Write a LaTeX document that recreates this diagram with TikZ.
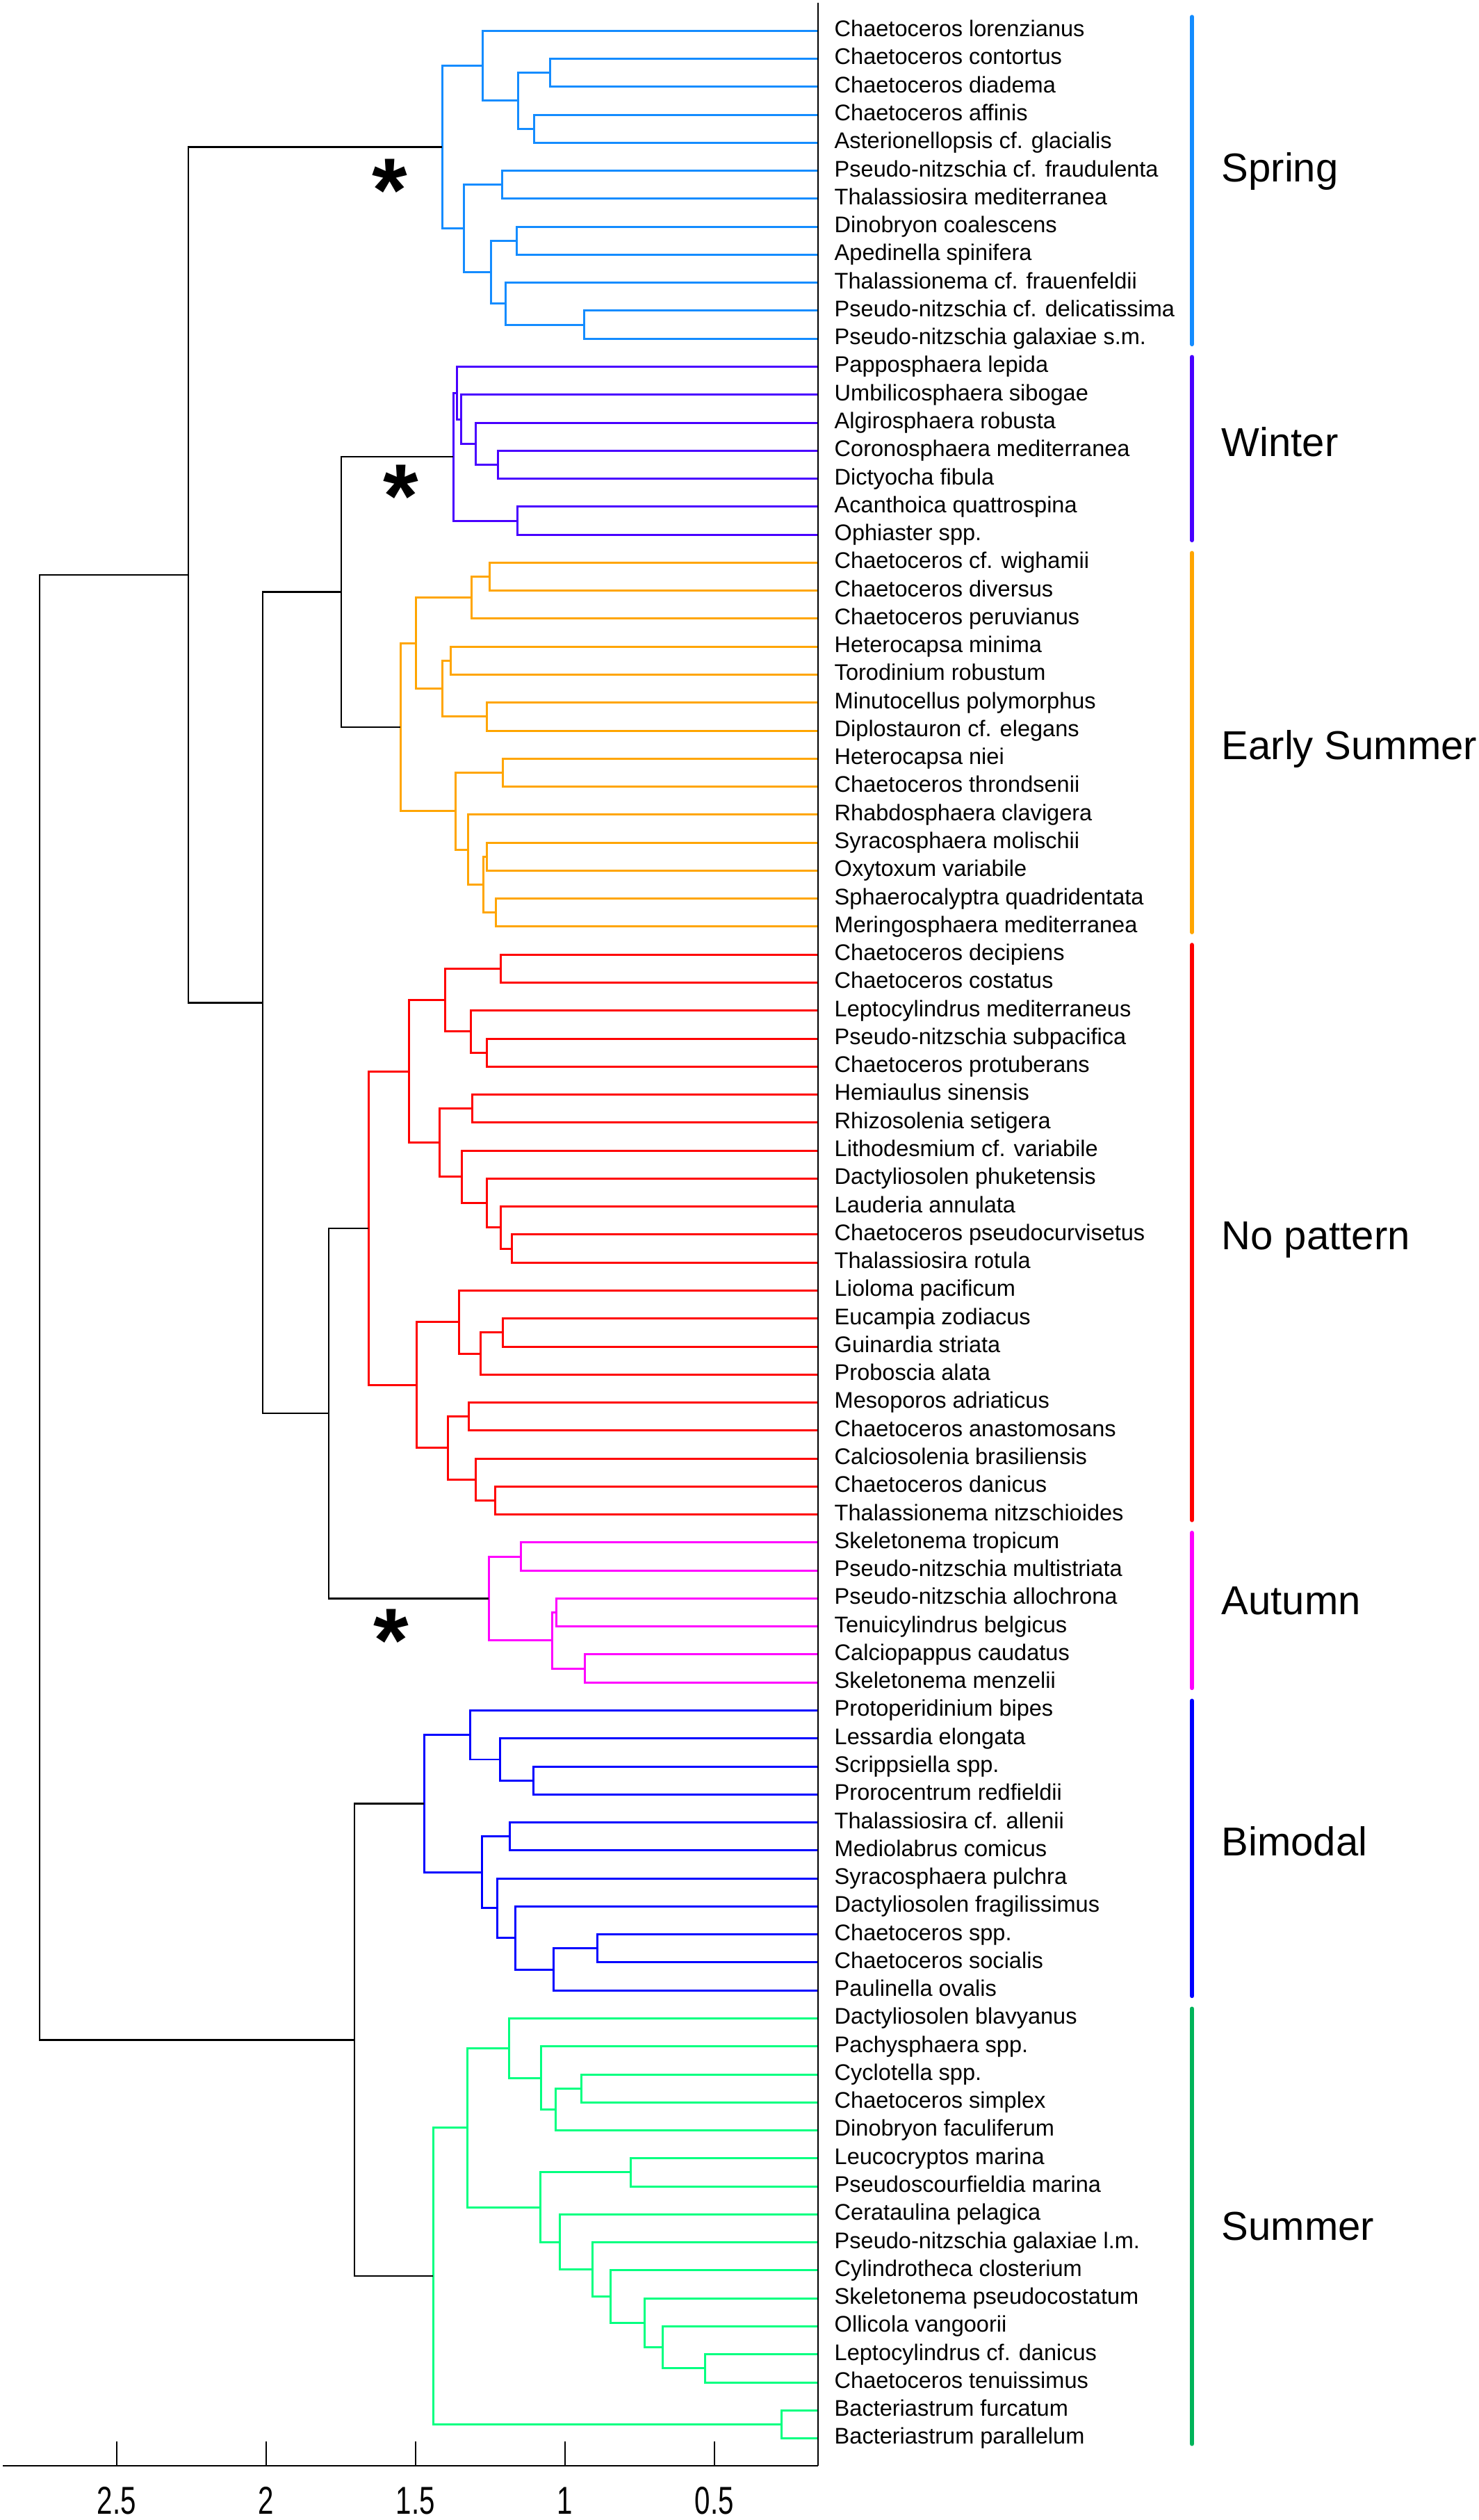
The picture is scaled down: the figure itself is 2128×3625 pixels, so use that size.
\documentclass[tikz,border=0pt]{standalone}
\usepackage{fontspec}
\setmainfont{Liberation Sans}
\newfontfamily\axisfont[FakeStretch=0.72]{Liberation Sans}
\usepackage{tikz}
\usetikzlibrary{calc}

\definecolor{springc}{RGB}{20,140,255}
\definecolor{winterc}{RGB}{72,0,255}
\definecolor{earlyc}{RGB}{255,165,0}
\definecolor{nopatc}{RGB}{255,0,0}
\definecolor{autumnc}{RGB}{255,0,255}
\definecolor{bimodc}{RGB}{0,0,255}
\definecolor{summerc}{RGB}{0,255,128}
\definecolor{summerbar}{RGB}{0,180,90}

\newcommand{\clade}[4]{%
  \coordinate (#1x) at (#4,0);
  \draw[branch] (#2) -- (#2 -| #1x) -- (#3 -| #1x) -- (#3);
  \coordinate (#1) at ($(#2 -| #1x)!0.5!(#3 -| #1x)$);
}

\begin{document}
\begin{tikzpicture}[
    x=0.01cm, y=-0.01cm,
    branch/.style={line width=0.85pt},
    trunk/.style={black, branch/.style={line width=0.7pt}},
    leaf/.style={anchor=base west, inner sep=0pt, font=\fontsize{9.25}{11}\selectfont},
    season/.style={anchor=base west, inner sep=0pt, font=\fontsize{16.5}{20}\selectfont},
    ticklab/.style={inner sep=0pt, font=\axisfont\fontsize{15.9}{19}\selectfont},
    sigmark/.style={anchor=base, inner sep=0pt, font=\fontsize{37}{40}\selectfont\bfseries},
    bar/.style={line width=1.7pt, line cap=round},
    axisline/.style={line width=0.75pt}
]
    \useasboundingbox (0,0) rectangle (2128,3625);

    \foreach \sp [count=\i] in {Chaetoceros lorenzianus, Chaetoceros contortus,
        Chaetoceros diadema, Chaetoceros affinis, Asterionellopsis cf. glacialis,
        Pseudo-nitzschia cf. fraudulenta, Thalassiosira mediterranea,
        Dinobryon coalescens, Apedinella spinifera, Thalassionema cf. frauenfeldii,
        Pseudo-nitzschia cf. delicatissima, Pseudo-nitzschia galaxiae s.m.,
        Papposphaera lepida, Umbilicosphaera sibogae, Algirosphaera robusta,
        Coronosphaera mediterranea, Dictyocha fibula, Acanthoica quattrospina,
        Ophiaster spp., Chaetoceros cf. wighamii, Chaetoceros diversus,
        Chaetoceros peruvianus, Heterocapsa minima, Torodinium robustum,
        Minutocellus polymorphus, Diplostauron cf. elegans, Heterocapsa niei,
        Chaetoceros throndsenii, Rhabdosphaera clavigera, Syracosphaera molischii,
        Oxytoxum variabile, Sphaerocalyptra quadridentata, Meringosphaera mediterranea,
        Chaetoceros decipiens, Chaetoceros costatus, Leptocylindrus mediterraneus,
        Pseudo-nitzschia subpacifica, Chaetoceros protuberans, Hemiaulus sinensis,
        Rhizosolenia setigera, Lithodesmium cf. variabile, Dactyliosolen phuketensis,
        Lauderia annulata, Chaetoceros pseudocurvisetus, Thalassiosira rotula,
        Lioloma pacificum, Eucampia zodiacus, Guinardia striata, Proboscia alata,
        Mesoporos adriaticus, Chaetoceros anastomosans, Calciosolenia brasiliensis,
        Chaetoceros danicus, Thalassionema nitzschioides, Skeletonema tropicum,
        Pseudo-nitzschia multistriata, Pseudo-nitzschia allochrona,
        Tenuicylindrus belgicus, Calciopappus caudatus, Skeletonema menzelii,
        Protoperidinium bipes, Lessardia elongata, Scrippsiella spp.,
        Prorocentrum redfieldii, Thalassiosira cf. allenii, Mediolabrus comicus,
        Syracosphaera pulchra, Dactyliosolen fragilissimus, Chaetoceros spp.,
        Chaetoceros socialis, Paulinella ovalis, Dactyliosolen blavyanus,
        Pachysphaera spp., Cyclotella spp., Chaetoceros simplex, Dinobryon faculiferum,
        Leucocryptos marina, Pseudoscourfieldia marina, Cerataulina pelagica,
        Pseudo-nitzschia galaxiae l.m., Cylindrotheca closterium,
        Skeletonema pseudocostatum, Ollicola vangoorii, Leptocylindrus cf. danicus,
        Chaetoceros tenuissimus, Bacteriastrum furcatum, Bacteriastrum parallelum}
    {
        \coordinate (L\i) at (1177,{4.03+40.27*\i});
        \node[leaf] (T\i) at (1200,{12.43+40.27*\i}) {\sp};
    }

    % spring
    \begin{scope}[springc]
        \clade{s1}{L2}{L3}{791}
        \clade{s2}{L4}{L5}{768}
        \clade{s3}{s1}{s2}{745}
        \clade{s4}{L1}{s3}{694}
        \clade{s5}{L6}{L7}{722}
        \clade{s6}{L8}{L9}{743}
        \clade{s7}{L11}{L12}{840}
        \clade{s8}{L10}{s7}{727}
        \clade{s9}{s6}{s8}{706}
        \clade{s10}{s5}{s9}{667}
        \clade{spr}{s4}{s10}{636}
    \end{scope}

    % winter
    \begin{scope}[winterc]
        \clade{w1}{L16}{L17}{716}
        \clade{w2}{L15}{w1}{684}
        \clade{w3}{L14}{w2}{663}
        \clade{w4}{L13}{w3}{657}
        \clade{w5}{L18}{L19}{744}
        \clade{win}{w4}{w5}{652}
    \end{scope}

    % early summer
    \begin{scope}[earlyc]
        \clade{e1}{L20}{L21}{704}
        \clade{e2}{e1}{L22}{678}
        \clade{e3}{L23}{L24}{648}
        \clade{e4}{L25}{L26}{700}
        \clade{e5}{e3}{e4}{636}
        \clade{e6}{e2}{e5}{598}
        \clade{e7}{L27}{L28}{723}
        \clade{e8}{L30}{L31}{700}
        \clade{e9}{L32}{L33}{713}
        \clade{e10}{e8}{e9}{695}
        \clade{e11}{L29}{e10}{673}
        \clade{e12}{e7}{e11}{655}
        \clade{ear}{e6}{e12}{576}
    \end{scope}

    % no pattern
    \begin{scope}[nopatc]
        \clade{n1}{L34}{L35}{720}
        \clade{n2}{L37}{L38}{700}
        \clade{n3}{L36}{n2}{677}
        \clade{n4}{n1}{n3}{640}
        \clade{n5}{L39}{L40}{679}
        \clade{n6}{L44}{L45}{736}
        \clade{n7}{L43}{n6}{720}
        \clade{n8}{L42}{n7}{700}
        \clade{n9}{L41}{n8}{664}
        \clade{n10}{n5}{n9}{632}
        \clade{n11}{n4}{n10}{588}
        \clade{n12}{L47}{L48}{723}
        \clade{n13}{n12}{L49}{691}
        \clade{n14}{L46}{n13}{660}
        \clade{n15}{L50}{L51}{674}
        \clade{n16}{L53}{L54}{712}
        \clade{n17}{L52}{n16}{684}
        \clade{n18}{n15}{n17}{644}
        \clade{n19}{n14}{n18}{599}
        \clade{nop}{n11}{n19}{530}
    \end{scope}

    % autumn
    \begin{scope}[autumnc]
        \clade{a1}{L55}{L56}{749}
        \clade{a2}{L57}{L58}{800}
        \clade{a3}{L59}{L60}{841}
        \clade{a4}{a2}{a3}{794}
        \clade{aut}{a1}{a4}{703}
    \end{scope}

    % bimodal
    \begin{scope}[bimodc]
        \clade{b1}{L63}{L64}{767}
        \clade{b2}{L62}{b1}{719}
        \clade{b3}{L61}{b2}{676}
        \clade{b4}{L65}{L66}{733}
        \clade{b5}{L69}{L70}{859}
        \clade{b6}{b5}{L71}{796}
        \clade{b7}{L68}{b6}{741}
        \clade{b8}{L67}{b7}{715}
        \clade{b9}{b4}{b8}{693}
        \clade{bim}{b3}{b9}{610}
    \end{scope}

    % summer
    \begin{scope}[summerc]
        \clade{u1}{L74}{L75}{836}
        \clade{u2}{u1}{L76}{799}
        \clade{u3}{L73}{u2}{778}
        \clade{u4}{L72}{u3}{732}
        \clade{u5}{L77}{L78}{907}
        \clade{u6}{L84}{L85}{1014}
        \clade{u7}{L83}{u6}{953}
        \clade{u8}{L82}{u7}{927}
        \clade{u9}{L81}{u8}{878}
        \clade{u10}{L80}{u9}{852}
        \clade{u11}{L79}{u10}{805}
        \clade{u12}{u5}{u11}{777}
        \clade{u13}{u4}{u12}{672}
        \clade{u14}{L86}{L87}{1124}
        \clade{sum}{u13}{u14}{623}
    \end{scope}

    \begin{scope}[trunk]
        \clade{k1}{win}{ear}{491}
        \clade{k2}{nop}{aut}{473}
        \clade{k3}{k1}{k2}{378}
        \clade{k4}{spr}{k3}{271}
        \clade{k5}{bim}{sum}{510}
        \clade{root}{k4}{k5}{57}
    \end{scope}

    \node[sigmark] (star1) at (561,319) {*};
    \node[sigmark] (star2) at (577,759) {*};
    \node[sigmark] (star3) at (563,2404) {*};

    % axis
    \coordinate (top) at (1177,4);
    \coordinate (corner) at (1177,3547);
    \coordinate (origin) at (4,3547);
    \draw[line width=0.6pt] (top) -- (corner);
    \draw[axisline] (origin) -- (corner);
    \foreach \v/\px [count=\k] in {2.5/167.6, 2/382.6, 1.5/597.7, 1/812.7, 0.5/1027.8}
    {
        \draw[line width=0.6pt] (\px,3512) -- (\px,3547);
        \node[ticklab] (tick\k) at (\px,3597) {\v};
    }

    % season bars
    \coordinate (barx) at (1715,0);
    \draw[bar, springc]   ($(L1 -| barx)+(0,-20)$)  -- ($(L12 -| barx)+(0,8)$);
    \draw[bar, winterc]   ($(L13 -| barx)+(0,-14)$) -- ($(L19 -| barx)+(0,8)$);
    \draw[bar, earlyc]    ($(L20 -| barx)+(0,-14)$) -- ($(L33 -| barx)+(0,8)$);
    \draw[bar, nopatc]    ($(L34 -| barx)+(0,-14)$) -- ($(L54 -| barx)+(0,8)$);
    \draw[bar, autumnc]   ($(L55 -| barx)+(0,-14)$) -- ($(L60 -| barx)+(0,8)$);
    \draw[bar, bimodc]    ($(L61 -| barx)+(0,-14)$) -- ($(L71 -| barx)+(0,8)$);
    \draw[bar, summerbar] ($(L72 -| barx)+(0,-14)$) -- ($(L87 -| barx)+(0,8)$);

    \node[season] (spring) at (1757,262) {Spring};
    \node[season] (winter) at (1757,657) {Winter};
    \node[season] (early) at (1757,1092) {Early Summer};
    \node[season] (nopat) at (1757,1797) {No pattern};
    \node[season] (autumn) at (1757,2322) {Autumn};
    \node[season] (bimodal) at (1757,2669) {Bimodal};
    \node[season] (summer) at (1757,3222) {Summer};
\end{tikzpicture}
\end{document}
